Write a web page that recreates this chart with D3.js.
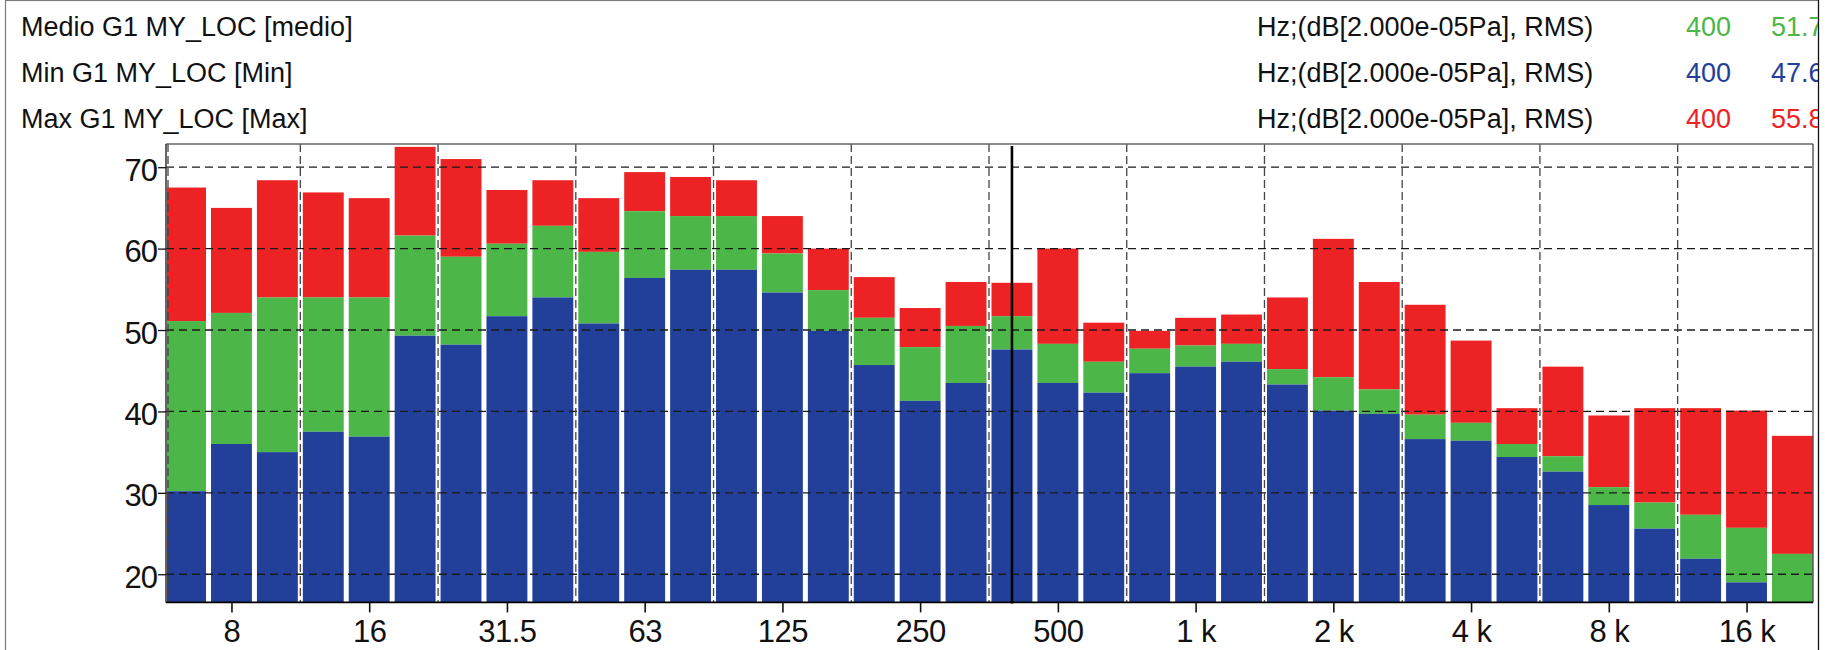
<!DOCTYPE html>
<html>
<head>
<meta charset="utf-8">
<script src="https://cdn.jsdelivr.net/npm/d3@7"></script>
<style>
  html, body { margin: 0; padding: 0; background: #fff; }
  svg { display: block; font-family: "Liberation Sans", Arial, sans-serif; }
</style>
</head>
<body>
<svg id="chart" width="1825" height="650"></svg>
<script>
// Third-octave band centre frequencies (Hz), nominal labels and levels in dB
const bandFreqs = [6.3, 8, 10, 12.5, 16, 20, 25, 31.5, 40, 50, 63, 80, 100, 125, 160, 200, 250, 315,
  400, 500, 630, 800, 1000, 1250, 1600, 2000, 2500, 3150, 4000, 5000, 6300, 8000, 10000, 12500, 16000, 20000];

const minLevels = [30.2, 36.0, 35.0, 37.5, 36.9, 49.3, 48.2, 51.7, 54.0, 50.8, 56.4, 57.4, 57.4, 54.6, 49.9, 45.7, 41.3, 43.5,
  47.6, 43.5, 42.3, 44.7, 45.5, 46.1, 43.3, 40.1, 39.7, 36.6, 36.4, 34.4, 32.6, 28.5, 25.6, 21.9, 19.0, 15.0];
const medioLevels = [51.1, 52.1, 54.0, 54.0, 54.0, 61.6, 59.0, 60.6, 62.8, 59.6, 64.6, 64.0, 64.0, 59.4, 54.9, 51.5, 47.9, 50.5,
  51.7, 48.3, 46.1, 47.7, 48.1, 48.3, 45.2, 44.2, 42.7, 39.6, 38.6, 36.0, 34.5, 30.7, 28.8, 27.3, 25.7, 22.5];
const maxLevels = [67.5, 65.0, 68.4, 66.9, 66.2, 72.5, 71.0, 67.2, 68.4, 66.2, 69.4, 68.8, 68.4, 64.0, 60.0, 56.5, 52.7, 55.9,
  55.8, 60.0, 50.9, 49.9, 51.5, 51.9, 54.0, 61.2, 55.9, 53.1, 48.7, 40.4, 45.5, 39.5, 40.4, 40.4, 40.1, 37.0];

const xTickIndex = [1, 4, 7, 10, 13, 16, 19, 22, 25, 28, 31, 34];
const xTickLabels = ["8", "16", "31.5", "63", "125", "250", "500", "1 k", "2 k", "4 k", "8 k", "16 k"];
const yTickValues = [20, 30, 40, 50, 60, 70];

const seriesNames = ["Medio G1 MY_LOC [medio]", "Min G1 MY_LOC [Min]", "Max G1 MY_LOC [Max]"];
const unitText = "Hz;(dB[2.000e-05Pa], RMS)";
const cursorIndex = 18;

const colors = { max: "#ED2224", medio: "#4CB748", min: "#22409A" };

// exact base-2 band centres, referenced to 1 kHz (index 22)
const exactCentre = i => 1000 * Math.pow(2, (i - 22) / 3);
const sixth = Math.pow(2, 1 / 6);

const svg = d3.select("#chart");
const plot = { left: 166, right: 1813, top: 144, bottom: 602.4 };

const x = d3.scaleLog()
  .domain([exactCentre(0) / sixth, exactCentre(bandFreqs.length - 1) * sixth])
  .range([162.6, 1815.4]);
const y = d3.scaleLinear().domain([16.54, 72.85]).range([plot.bottom, plot.top]);

// outer frame
svg.append("rect").attr("x", 5.5).attr("y", 0.5).attr("width", 1813).attr("height", 660)
  .attr("fill", "none").attr("stroke", "#7a7a7a").attr("stroke-width", 1.2);
svg.append("line").attr("x1", 1818.5).attr("x2", 1818.5).attr("y1", 0).attr("y2", 650)
  .attr("stroke", "#111").attr("stroke-width", 1.2);

// header rows
svg.append("clipPath").attr("id", "headClip").append("rect")
  .attr("x", 6).attr("y", 0).attr("width", 1812).attr("height", 140);
const head = svg.append("g").attr("clip-path", "url(#headClip)")
  .style("font-size", "27px").style("fill", "#111");
const headRows = [
  { name: seriesNames[0], color: colors.medio, value: medioLevels[cursorIndex] },
  { name: seriesNames[1], color: colors.min, value: minLevels[cursorIndex] },
  { name: seriesNames[2], color: colors.max, value: maxLevels[cursorIndex] }
];
const rowBase = [36, 82, 128];
headRows.forEach((r, k) => {
  head.append("text").attr("x", 21).attr("y", rowBase[k]).text(r.name);
  head.append("text").attr("x", 1257).attr("y", rowBase[k]).text(unitText);
  head.append("text").attr("x", 1686).attr("y", rowBase[k]).style("fill", r.color)
    .text(d3.format("d")(bandFreqs[cursorIndex]));
  head.append("text").attr("x", 1771).attr("y", rowBase[k]).style("fill", r.color)
    .text(r.value.toFixed(1));
});

// bars
svg.append("clipPath").attr("id", "plotClip").append("rect")
  .attr("x", plot.left + 1).attr("y", plot.top).attr("width", plot.right - plot.left - 1)
  .attr("height", plot.bottom - plot.top);
const barsG = svg.append("g").attr("clip-path", "url(#plotClip)");
const gap = 2.5;
const bands = bandFreqs.map((f, i) => ({
  i, min: minLevels[i], medio: medioLevels[i], max: maxLevels[i],
  x0: x(exactCentre(i) / sixth) + gap, x1: x(exactCentre(i) * sixth) - gap
}));
const segs = [
  { key: "max", lo: d => d.medio, hi: d => d.max },
  { key: "medio", lo: d => d.min, hi: d => d.medio },
  { key: "min", lo: () => y.domain()[0] - 5, hi: d => d.min }
];
segs.forEach(s => {
  barsG.selectAll("rect." + s.key).data(bands).join("rect")
    .attr("class", s.key)
    .attr("x", d => d.x0)
    .attr("width", d => d.x1 - d.x0)
    .attr("y", d => y(s.hi(d)))
    .attr("height", d => Math.max(0, y(s.lo(d)) - y(s.hi(d))))
    .attr("fill", colors[s.key]);
});

// grid
const grid = svg.append("g");
grid.selectAll("line.h").data(yTickValues).join("line")
  .attr("x1", plot.left).attr("x2", plot.right)
  .attr("y1", d => y(d)).attr("y2", d => y(d))
  .attr("stroke", "#1a1a1a").attr("stroke-width", 1.3).attr("stroke-dasharray", "8,5");
const octaveEdges = d3.range(0, 12).map(k => exactCentre(3 * k) / sixth);
grid.selectAll("line.v").data(octaveEdges).join("line")
  .attr("x1", d => Math.max(plot.left + 2, x(d))).attr("x2", d => Math.max(plot.left + 2, x(d)))
  .attr("y1", plot.top).attr("y2", plot.bottom)
  .attr("stroke", "#444").attr("stroke-width", 1.3).attr("stroke-dasharray", "8,4");

// frame
svg.append("line").attr("x1", plot.left).attr("x2", plot.right).attr("y1", plot.top).attr("y2", plot.top)
  .attr("stroke", "#666").attr("stroke-width", 1.3);
svg.append("line").attr("x1", plot.right).attr("x2", plot.right).attr("y1", plot.top).attr("y2", plot.bottom)
  .attr("stroke", "#444").attr("stroke-width", 1.3);
svg.append("line").attr("x1", plot.left).attr("x2", plot.left).attr("y1", plot.top).attr("y2", plot.bottom)
  .attr("stroke", "#333").attr("stroke-width", 1.5);

// cursor at 400 Hz
svg.append("line")
  .attr("x1", x(exactCentre(cursorIndex))).attr("x2", x(exactCentre(cursorIndex)))
  .attr("y1", plot.top + 2).attr("y2", plot.bottom + 1)
  .attr("stroke", "#000").attr("stroke-width", 2.6);

// y axis
const yAxis = d3.axisLeft(y).tickValues(yTickValues).tickSize(8).tickPadding(1).tickFormat(d3.format("d"));
const yg = svg.append("g").attr("transform", `translate(${plot.left},0)`).call(yAxis);
yg.select(".domain").remove();
yg.selectAll(".tick line").attr("stroke", "#111").attr("stroke-width", 1.3);
yg.selectAll(".tick text").attr("fill", "#111").style("font-size", "31px")
  .style("font-family", "'Liberation Sans', Arial, sans-serif").style("letter-spacing", "-1px").attr("dy", "0.42em");

// x axis
const xAxis = d3.axisBottom(x)
  .tickValues(xTickIndex.map(exactCentre))
  .tickFormat((d, k) => xTickLabels[k])
  .tickSize(10).tickPadding(8);
const xg = svg.append("g").attr("transform", `translate(0,${plot.bottom})`).call(xAxis);
xg.select(".domain").attr("d", `M${plot.left},0H${plot.right}`).attr("stroke", "#000").attr("stroke-width", 1.6);
xg.selectAll(".tick line").attr("stroke", "#111").attr("stroke-width", 1.6);
xg.selectAll(".tick text").attr("fill", "#111").style("font-size", "31px")
  .style("font-family", "'Liberation Sans', Arial, sans-serif").style("letter-spacing", "-0.5px");
</script>
</body>
</html>
